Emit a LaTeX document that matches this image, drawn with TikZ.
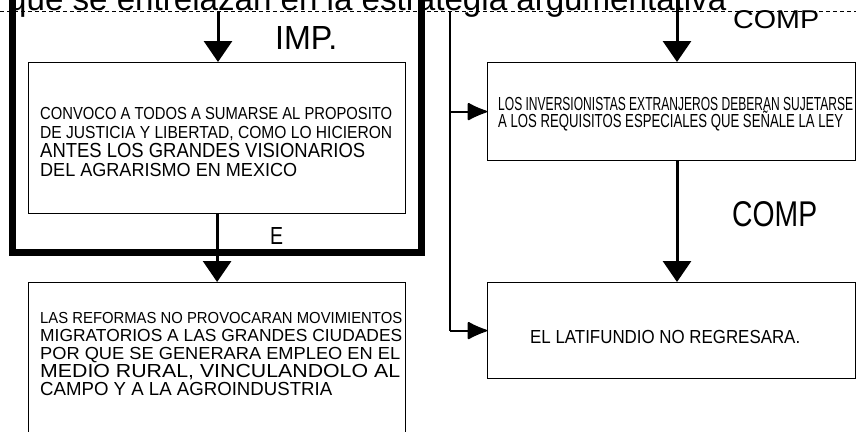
\documentclass[tikz,border=0pt]{standalone}
\usepackage{fontspec}
\setmainfont{Liberation Sans}
\usepackage{graphicx}
\usetikzlibrary{arrows.meta}
\newcommand{\fitline}[3]{\resizebox{#1}{#2}{\vphantom{H}\smash{#3}}}
\tikzset{
 boxnode/.style={draw=black, line width=1.2pt, rectangle, inner sep=0pt, anchor=north west},
 boxtext/.style={anchor=north west, inner sep=0pt, align=left},
 biglabel/.style={anchor=south west, inner sep=0pt},
 downarrow/.style={line width=3pt, -{Triangle[width=28pt,length=21pt]}},
 sidearrow/.style={line width=2pt, -{Latex[round,length=22pt,width=19pt]}},
 frameline/.style={line width=7pt},
 vline/.style={line width=1.5pt},
}
\begin{document}
\begin{tikzpicture}[x=1pt,y=-1pt]
\useasboundingbox (0,0) rectangle (856,431);
\clip (0,0) rectangle (856,431);
\fill[white] (0,0) rectangle (856,431);
% header line
\coordinate (ul0) at (0,11);
\coordinate (ul1) at (856,11);
\node[anchor=base west, inner sep=0pt] (head) at (8,10) {\resizebox{718pt}{!}{que se entrelazan en la estrategia argumentativa}};
\draw[dash pattern=on 4pt off 3pt, line width=0.8pt] (ul0) -- (ul1);
% thick frame
\draw[frameline] (12,-20) rectangle (421,252);
% boxes
\node[boxnode, minimum width=377pt, minimum height=151pt] (box1) at (28,62) {};
\node[boxnode, minimum width=377pt, minimum height=170pt] (box2) at (28,282) {};
\node[boxnode, minimum width=368pt, minimum height=98pt] (box3) at (487,62) {};
\node[boxnode, minimum width=368pt, minimum height=96pt] (box4) at (487,282) {};
% box texts
\node[boxtext, font=\fontsize{16}{19}\selectfont] (txt1) at (40,107) {\fitline{352pt}{12pt}{CONVOCO A TODOS A SUMARSE AL PROPOSITO}\\\fitline{352pt}{12pt}{DE JUSTICIA Y LIBERTAD, COMO LO HICIERON}\\\fitline{325pt}{14pt}{ANTES LOS GRANDES VISIONARIOS}\\\fitline{257pt}{13pt}{DEL AGRARISMO EN MEXICO}};
\node[boxtext, font=\fontsize{16}{18}\selectfont] (txt2) at (40,312) {\fitline{362pt}{11pt}{LAS REFORMAS NO PROVOCARAN MOVIMIENTOS}\\\fitline{362pt}{12pt}{MIGRATORIOS A LAS GRANDES CIUDADES}\\\fitline{360pt}{12pt}{POR QUE SE GENERARA EMPLEO EN EL}\\\fitline{360pt}{13pt}{MEDIO RURAL, VINCULANDOLO AL}\\\fitline{292pt}{13pt}{CAMPO Y A LA AGROINDUSTRIA}};
\node[boxtext, font=\fontsize{16}{17}\selectfont] (txt3) at (498,97) {\fitline{355pt}{13pt}{LOS INVERSIONISTAS EXTRANJEROS DEBERAN SUJETARSE}\\\fitline{345pt}{13pt}{A LOS REQUISITOS ESPECIALES QUE SEÑALE LA LEY}};
\node[boxtext, font=\fontsize{16}{17}\selectfont] (txt4) at (530,330) {\fitline{270pt}{13pt}{EL LATIFUNDIO NO REGRESARA.}};
% labels
\node[biglabel] (imp) at (275,50) {\resizebox{62pt}{23pt}{IMP.}};
\node[biglabel] (elab) at (270,245) {\resizebox{13pt}{17pt}{E}};
\node[biglabel] (comp1) at (733,29) {\resizebox{86pt}{18pt}{COMP}};
\node[biglabel] (comp2) at (732,227) {\resizebox{85pt}{25pt}{COMP}};
% connectors
\coordinate (t1) at (218,12);
\coordinate (t2) at (677,0);
\coordinate (r0) at (450,11);
\draw[downarrow] (t1) -- (t1 |- box1.north);
\draw[downarrow] (t2) -- (t2 |- box3.north);
\draw[downarrow] (box1.south) -- (box2.north);
\draw[downarrow] (box3.south -| t2) -- (box4.north -| t2);
\draw[vline] (r0) -- (r0 |- box4.west);
\draw[sidearrow] (r0 |- box3.west) -- (box3.west);
\draw[sidearrow] (r0 |- box4.west) -- (box4.west);
\end{tikzpicture}
\end{document}
